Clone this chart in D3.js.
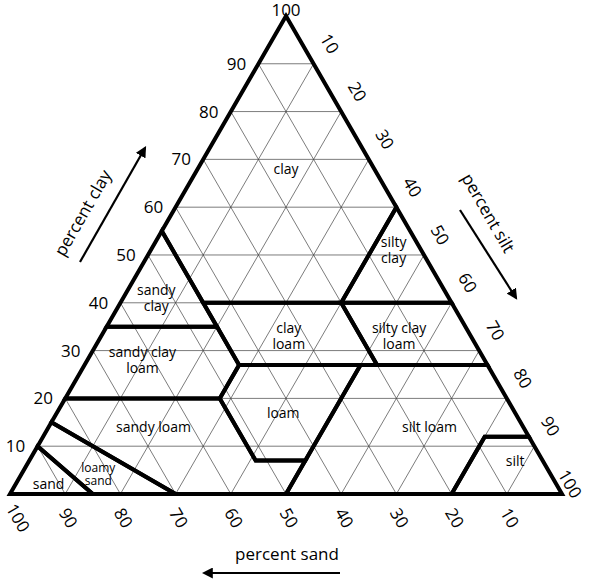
<!DOCTYPE html>
<html><head><meta charset="utf-8">
<script src="https://cdn.jsdelivr.net/npm/d3@7"></script>
<style>body{margin:0;background:#fff}text{font-family:"Open Sans",sans-serif;fill:#000}</style>
</head><body>
<script>
// ticks every 10 percent
var ticks = [10,20,30,40,50,60,70,80,90,100];
// texture classes: polygon vertices as [sand, silt, clay]
var classes = [
  {name:"clay", pts:[[0,0,100],[0,40,60],[20,40,40],[45,15,40],[45,0,55]]},
  {name:"sandy clay", pts:[[45,0,55],[45,20,35],[65,0,35]]},
  {name:"silty clay", pts:[[0,40,60],[0,60,40],[20,40,40]]},
  {name:"sandy clay loam", pts:[[80,0,20],[65,0,35],[45,20,35],[45,28,27],[52,28,20]]},
  {name:"clay loam", pts:[[45,15,40],[20,40,40],[20,53,27],[45,28,27]]},
  {name:"silty clay loam", pts:[[20,40,40],[0,60,40],[0,73,27],[20,53,27]]},
  {name:"loam", pts:[[45,28,27],[23,50,27],[43,50,7],[52,41,7],[52,28,20]]},
  {name:"silt loam", pts:[[23,50,27],[0,73,27],[0,88,12],[8,80,12],[20,80,0],[50,50,0],[43,50,7]]},
  {name:"silt", pts:[[0,88,12],[0,100,0],[20,80,0],[8,80,12]]},
  {name:"sandy loam", pts:[[80,0,20],[52,28,20],[52,41,7],[43,50,7],[50,50,0],[70,30,0],[85,0,15]]},
  {name:"loamy sand", pts:[[85,0,15],[70,30,0],[85,15,0],[90,0,10]]},
  {name:"sand", pts:[[90,0,10],[85,15,0],[100,0,0]]}
];
// label anchor compositions [sand, silt, clay] and line breaks
var labels = [
  {t:["clay"], c:[16,16,68]},
  {t:["silty","clay"], c:[5,44,51]},
  {t:["sandy","clay"], c:[53,6,41]},
  {t:["clay","loam"], c:[33,34,33]},
  {t:["silty clay","loam"], c:[13,54,33]},
  {t:["sandy clay","loam"], c:[62,10,28]},
  {t:["loam"], c:[42,41,17]},
  {t:["sandy loam"], c:[67,19,14]},
  {t:["silt loam"], c:[17,69,14]},
  {t:["silt"], c:[5,88,7]},
  {t:["loamy","sand"], c:[82,14,4]},
  {t:["sand"], c:[92,6,2]}
];

var L=10, B=494, W=552, H=W*Math.sqrt(3)/2;
var xs=d3.scaleLinear().domain([0,100]).range([L,L+W]);
var ys=d3.scaleLinear().domain([0,100]).range([B,B-H]);
function P(c){ return [xs(c[1]+c[2]/2), ys(c[2])]; }

var svg=d3.select("body").append("svg").attr("width",592).attr("height",588);
var defs=svg.append("defs");
defs.append("marker").attr("id","ah").attr("viewBox","0 0 10 10").attr("refX",8).attr("refY",5)
  .attr("markerWidth",5).attr("markerHeight",5).attr("orient","auto")
  .append("path").attr("d","M0,0L10,5L0,10z").attr("fill","#000");

var line=d3.line();
// grid
var g=svg.append("g").attr("stroke","#444").attr("stroke-width",0.7).attr("fill","none");
ticks.slice(0,9).forEach(function(v){
  g.append("path").attr("d",line([P([100-v,0,v]),P([0,100-v,v])]));
  g.append("path").attr("d",line([P([v,100-v,0]),P([v,0,100-v])]));
  g.append("path").attr("d",line([P([100-v,v,0]),P([0,v,100-v])]));
});
// class boundaries
svg.append("g").selectAll("path").data(classes).enter().append("path")
  .attr("d",function(d){return line(d.pts.map(P))+"Z";})
  .attr("fill","none").attr("stroke","#000").attr("stroke-width",4).attr("stroke-linejoin","miter");
// outer triangle
svg.append("path").attr("d",line([P([100,0,0]),P([0,100,0]),P([0,0,100])])+"Z")
  .attr("fill","none").attr("stroke","#000").attr("stroke-width",2.5);

// labels
var lt=svg.append("g").attr("font-size",14).attr("text-anchor","middle");
labels.forEach(function(d){
  var p=P(d.c), n=d.t.length;
  var t=lt.append("text").attr("x",p[0]).attr("y",p[1]-(n-1)*8+5)
    .attr("font-size",d.t[0]=="loamy"?12:14);
  d.t.forEach(function(s,i){ t.append("tspan").attr("x",p[0]).attr("dy",i?(d.t[0]=="loamy"?13:16):0).text(s); });
});

// tick labels
var tk=svg.append("g").attr("font-size",17).attr("text-anchor","middle");
ticks.forEach(function(v){
  var p=P([100-v,0,v]);
  tk.append("text").attr("x",p[0]-(v==100?0:22)).attr("y",p[1]+(v==100?0:6)).text(v);
  if(v<100){
  var q=P([0,v,100-v]);
  tk.append("text").attr("transform","translate("+(q[0]+16)+","+(q[1]-20)+") rotate(60)").attr("dy",6).text(v);
  }
  var r=P([v,100-v,0]);
  tk.append("text").attr("transform","translate("+(r[0]+(v==100?8:3))+","+(r[1]+24)+") rotate(60)").attr("dy",6).text(v);
});
var q0=P([0,100,0]);
tk.append("text").attr("transform","translate("+(q0[0]+8)+","+(q0[1]-10)+") rotate(60)").attr("dy",6).text(100);

// axis titles
var at=svg.append("g").attr("font-size",17).attr("text-anchor","middle");
at.append("text").attr("transform","translate(88,216) rotate(-60)").text("percent clay");
at.append("text").attr("transform","translate(483,216) rotate(60)").text("percent silt");
at.append("text").attr("x",287).attr("y",560).text("percent sand");
var ar=svg.append("g").attr("stroke","#000").attr("stroke-width",2.2).attr("marker-end","url(#ah)");
ar.append("line").attr("x1",80).attr("y1",262).attr("x2",145).attr("y2",148);
ar.append("line").attr("x1",460).attr("y1",210).attr("x2",516).attr("y2",298);
ar.append("line").attr("x1",340).attr("y1",573).attr("x2",204).attr("y2",573);
</script>
</body></html>
